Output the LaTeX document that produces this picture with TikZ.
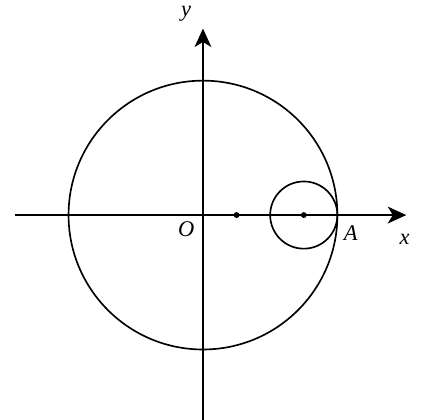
\documentclass[tikz,border=0pt]{standalone}
\usepackage{fontspec}
\setmainfont{Liberation Serif}
\usetikzlibrary{arrows.meta,positioning}

\begin{document}
\begin{tikzpicture}[line width=1.4pt,every node/.style={font=\fontsize{19}{19}\selectfont\itshape,inner sep=1pt},axis/.style={-{Stealth[length=5.5mm,width=5mm,inset=1.5mm]}},pt/.style={circle,fill=black,inner sep=0pt,minimum size=5pt}]
\useasboundingbox (-6.04,-6.07) rectangle (6.756,6.4);
\coordinate (xs) at (-5.6,0);
\coordinate (xe) at (6.05,0);
\coordinate (ys) at (0,-6.1);
\coordinate (ye) at (0,5.55);
\draw[axis] (xs)--(xe);
\draw[axis] (ys)--(ye);
\coordinate (O) at (0,0);
\draw (O) circle (4);
\node[pt] (C) at (3,0) {};
\node[pt] (P) at (1,0) {};
\draw (C) circle (1);
\node (o) at (-0.5,-0.42) {O};
\node (a) at (4.4,-0.55) {A};
\node (x) at (6.0,-0.72) {x};
\node (y) at (-0.5,5.98) {y};
\end{tikzpicture}
\end{document}
